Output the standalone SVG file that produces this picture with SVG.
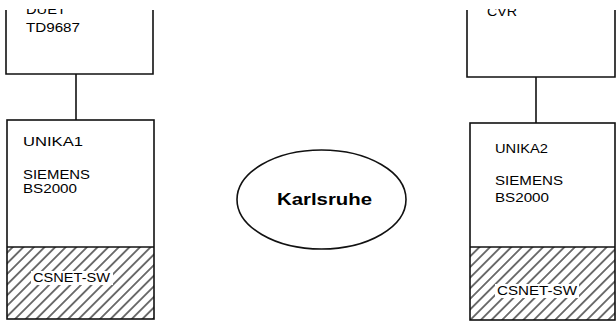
<svg xmlns="http://www.w3.org/2000/svg" width="616" height="322" viewBox="0 0 616 322">
<style>
.box{fill:none;stroke:#111;stroke-width:1.6}
.ln{stroke:#111;stroke-width:1.6;fill:none}
.t{font-family:"Liberation Sans",Arial,sans-serif;font-size:13.5px;fill:#000}
.b{font-family:"Liberation Sans",Arial,sans-serif;font-size:16.5px;font-weight:bold;fill:#000}
</style>
<defs>
<pattern id="hatch" patternUnits="userSpaceOnUse" width="7.5" height="7.5" patternTransform="rotate(45)">
<line x1="3.75" y1="0" x2="3.75" y2="7.5" stroke="#000" stroke-width="1.1"/>
</pattern>
</defs>
<g id="connectors">
<line class="ln" x1="76" y1="74" x2="76" y2="120"/>
<line class="ln" x1="536" y1="77" x2="536" y2="123"/>
</g>
<g id="duet">
<polyline class="box" points="6,10 6,74 153,74 153,10"/>
<text class="t" x="26" y="14" textLength="40" lengthAdjust="spacingAndGlyphs">DUET</text>
<text class="t" x="26" y="32" textLength="54" lengthAdjust="spacingAndGlyphs">TD9687</text>
</g>
<g id="unika1">
<rect x="7" y="247" width="147" height="72" fill="url(#hatch)"/>
<rect class="box" x="7" y="120" width="147" height="199"/>
<line class="ln" x1="7" y1="247" x2="154" y2="247"/>
<text class="t" x="23" y="146" textLength="60" lengthAdjust="spacingAndGlyphs">UNIKA1</text>
<text class="t" x="23" y="179" textLength="67" lengthAdjust="spacingAndGlyphs">SIEMENS</text>
<text class="t" x="23" y="193" textLength="54" lengthAdjust="spacingAndGlyphs">BS2000</text>
<rect x="31" y="271" width="82" height="14" fill="#fff"/>
<text class="t" x="33" y="282" textLength="77" lengthAdjust="spacingAndGlyphs">CSNET-SW</text>
</g>
<g id="karlsruhe">
<ellipse class="box" cx="321.5" cy="199.5" rx="84.5" ry="49.5"/>
<text class="b" x="277" y="205" textLength="95" lengthAdjust="spacingAndGlyphs">Karlsruhe</text>
</g>
<g id="cvr">
<polyline class="box" points="467,10 467,77 615,77 615,10"/>
<text class="t" x="487" y="16" textLength="30" lengthAdjust="spacingAndGlyphs">CVR</text>
</g>
<g id="unika2">
<rect x="470" y="247" width="145" height="73" fill="url(#hatch)"/>
<rect class="box" x="470" y="123" width="145" height="197"/>
<line class="ln" x1="470" y1="247" x2="615" y2="247"/>
<text class="t" x="495" y="153" textLength="53" lengthAdjust="spacingAndGlyphs">UNIKA2</text>
<text class="t" x="495" y="185" textLength="68" lengthAdjust="spacingAndGlyphs">SIEMENS</text>
<text class="t" x="495" y="202" textLength="54" lengthAdjust="spacingAndGlyphs">BS2000</text>
<rect x="495" y="284" width="84" height="14" fill="#fff"/>
<text class="t" x="497" y="295" textLength="80" lengthAdjust="spacingAndGlyphs">CSNET-SW</text>
</g>
<rect x="0" y="0" width="616" height="9" fill="#fff"/>
</svg>
